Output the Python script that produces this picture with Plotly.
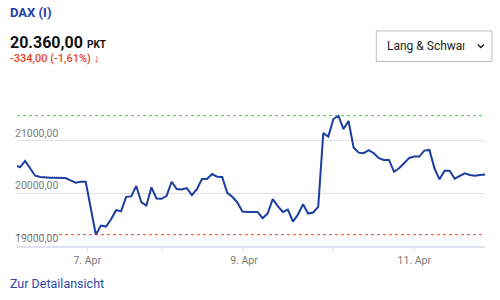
import plotly.graph_objects as go

# ---- data ----
steps = [0, 1, 2, 3, 4, 5, 6, 7, 8, 9, 10, 11, 12, 13, 14,
         16, 17, 18, 19, 20, 21, 22, 23, 24, 25, 26, 27, 28, 29, 30,
         31, 32, 33, 34, 35, 36, 37, 38, 39, 40, 41, 42, 43, 44, 45,
         46, 47, 48, 49, 50, 51, 52, 53, 54, 55, 56, 57, 58, 59, 60,
         61, 62, 63, 64, 65, 66, 67, 68, 69, 70, 71, 72, 73, 74, 75,
         76, 77, 78, 79, 80, 81, 82, 83, 84, 85, 86, 87, 88, 89, 90,
         91, 92, 93]
prices = [20541, 20497, 20618, 20478, 20337, 20312, 20298, 20298, 20298, 20296,
          20293, 20249, 20203, 20222, 20222,
          19215, 19388, 19369, 19503, 19681, 19662, 19935, 19943, 20140, 19828,
          19771, 20115, 19904, 19897, 19954, 20222, 20082, 20076, 20101, 19967,
          20082, 20273, 20273, 20369, 20317, 20312, 20011, 19935, 19828, 19656,
          19648, 19652, 19648, 19528, 19618, 19891, 19757, 19648, 19694, 19465,
          19598, 19795, 19618, 19637, 19744,
          21147, 21082, 21415, 21478, 21224, 21377, 20872, 20776, 20765, 20822,
          20765, 20669, 20637, 20637, 20413, 20478, 20574, 20675, 20700, 20700,
          20815, 20828, 20478, 20268, 20432, 20432, 20279, 20331, 20382, 20350,
          20337, 20350, 20360]
day_ticks = [14.3, 29.1, 45.3, 62.8, 79.0]
day_labels = ["7. Apr", "", "9. Apr", "", "11. Apr"]
y_ticks = [19000, 20000, 21000, 22000]
y_labels = ["19000,00", "20000,00", "21000,00"]

title = "DAX (I)"
last_price = "20.360,00"
unit = "PKT"
change_text = "-334,00 (-1,61%) \u2193"
source = "Lang & Schwarz"
link = "Zur Detailansicht"

# ---- geometry ----
W, H = 500, 300
L, R, T, B = 17, 15.4, 88, 54.3
pw, ph = W - L - R, H - T - B


def px(x):
    return (x - L) / pw


def py(y):
    return (H - B - y) / ph


high, low = max(prices), min(prices)

fig = go.Figure()
fig.add_trace(go.Scatter(x=steps, y=prices, mode="lines",
                         line=dict(color="#1c3f9e", width=2),
                         hoverinfo="skip", showlegend=False))

annotations = []
for v, t in zip(y_ticks, y_labels):
    annotations.append(dict(x=px(13), y=v, xref="paper", yref="y", text=t,
                            showarrow=False, xanchor="left", yanchor="bottom",
                            yshift=-1,
                            font=dict(family="Roboto", size=10.5, color="#7a7a7a")))

annotations += [
    dict(x=px(8), y=py(13), xref="paper", yref="paper", text="<b>" + title + "</b>",
         showarrow=False, xanchor="left", yanchor="middle",
         font=dict(family="Roboto", size=13, color="#1e40a8")),
    dict(x=px(8), y=py(43), xref="paper", yref="paper",
         text="<b>" + last_price + "</b>",
         showarrow=False, xanchor="left", yanchor="middle",
         font=dict(family="Roboto", size=16, color="#111111")),
    dict(x=px(85), y=py(44.5), xref="paper", yref="paper", text="<b>" + unit + "</b>",
         showarrow=False, xanchor="left", yanchor="middle",
         font=dict(family="Roboto", size=10, color="#111111")),
    dict(x=px(8), y=py(59), xref="paper", yref="paper", text=change_text,
         showarrow=False, xanchor="left", yanchor="middle",
         font=dict(family="Roboto", size=11, color="#e5431d", weight=500)),
    dict(x=px(385), y=py(46), xref="paper", yref="paper", text=source,
         showarrow=False, xanchor="left", yanchor="middle",
         font=dict(family="Roboto", size=12, color="#222222")),
    # white cover that clips the end of the select text
    dict(x=px(464), y=py(46), xref="paper", yref="paper", text=" ",
         showarrow=False, xanchor="left", yanchor="middle",
         width=11, height=20, bgcolor="white", borderpad=0,
         font=dict(size=10)),
    dict(x=px(8), y=py(283), xref="paper", yref="paper", text=link,
         showarrow=False, xanchor="left", yanchor="middle",
         font=dict(family="Roboto", size=12.5, color="#2b4aa8")),
]

shapes = [
    dict(type="line", xref="paper", yref="y", x0=0, x1=1, y0=high, y1=high,
         line=dict(color="#33cc33", width=1, dash="dot")),
    dict(type="line", xref="paper", yref="y", x0=0, x1=1, y0=low, y1=low,
         line=dict(color="#e8471f", width=1, dash="dot")),
    dict(type="rect", xref="paper", yref="paper",
         x0=px(376), x1=px(491.5), y0=py(31), y1=py(61.5),
         line=dict(color="#bdbdbd", width=1), fillcolor="rgba(0,0,0,0)"),
    dict(type="path", xref="paper", yref="paper",
         path="M {} {} L {} {} L {} {}".format(px(477.5), py(44.5), px(480.5), py(47.5),
                                                 px(483.5), py(44.5)),
         line=dict(color="#222222", width=1.5)),
]

fig.update_layout(
    width=W, height=H,
    margin=dict(l=L, r=R, t=T, b=B),
    paper_bgcolor="white", plot_bgcolor="white",
    annotations=annotations, shapes=shapes,
    xaxis=dict(range=[0.4, 93], tickvals=day_ticks, ticktext=day_labels,
               showgrid=False, zeroline=False,
               showline=True, linecolor="#dfe3ec", linewidth=1.5,
               ticks="outside", ticklen=4, tickcolor="#dfe3ec",
               tickfont=dict(family="Roboto", size=10.5, color="#7a7a7a")),
    yaxis=dict(range=[19000, 22005], tickvals=y_ticks, showticklabels=False,
               showgrid=True, gridcolor="#e2e2e2", gridwidth=1, zeroline=False,
               showline=False),
)

fig.write_html("out.html")
